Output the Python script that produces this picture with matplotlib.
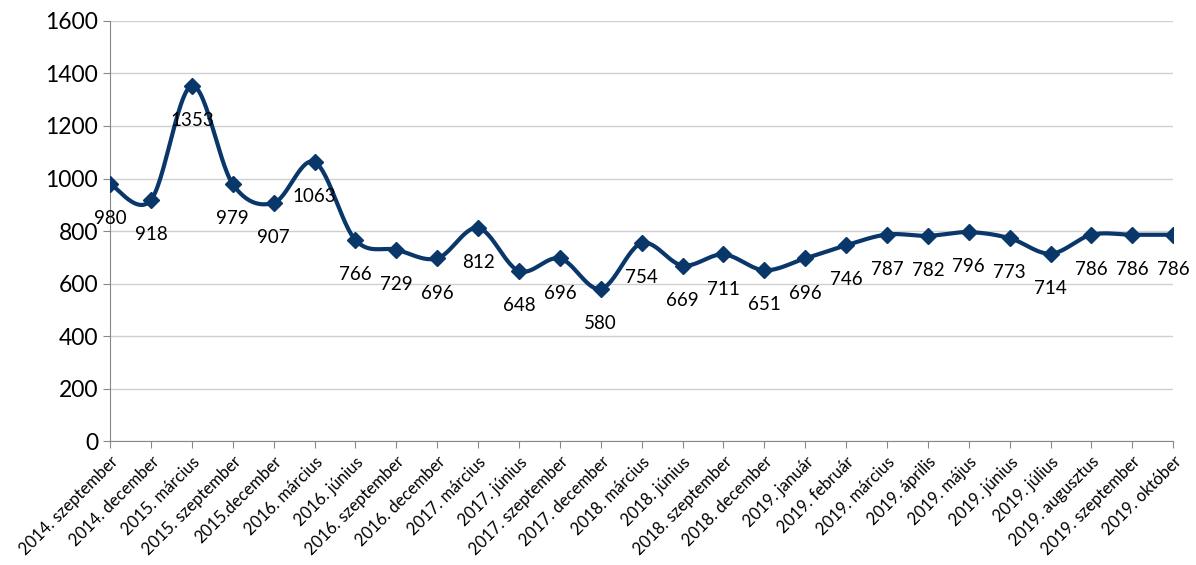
import numpy as np
import matplotlib
matplotlib.use("Agg")
import matplotlib.pyplot as plt

plt.rcParams['font.family'] = ['Lato', 'DejaVu Sans']

categories = ["2014. szeptember", "2014. december", "2015. március", "2015. szeptember",
              "2015.december", "2016. március", "2016. június", "2016. szeptember",
              "2016. december", "2017. március", "2017. június", "2017. szeptember",
              "2017. december", "2018. március", "2018. június", "2018. szeptember",
              "2018. december", "2019. január", "2019. február", "2019. március",
              "2019. április", "2019. május", "2019. június", "2019. július",
              "2019. augusztus", "2019. szeptember", "2019. október"]
values = [980, 918, 1353, 979, 907, 1063, 766, 729, 696, 812, 648, 696, 580, 754,
          669, 711, 651, 696, 746, 787, 782, 796, 773, 714, 786, 786, 786]
y_ticks = [0, 200, 400, 600, 800, 1000, 1200, 1400, 1600]

color = '#0A376A'

def smooth(x, y, n=30):
    x = np.asarray(x, float); y = np.asarray(y, float)
    px = np.concatenate([[x[0]], x, [x[-1]]])
    py = np.concatenate([[y[0]], y, [y[-1]]])
    xs, ys = [], []
    t = np.linspace(0, 1, n)
    for i in range(1, len(px) - 2):
        p0 = np.array([px[i], py[i]]); p3 = np.array([px[i+1], py[i+1]])
        c1 = p0 + (np.array([px[i+1], py[i+1]]) - np.array([px[i-1], py[i-1]])) / 6
        c2 = p3 - (np.array([px[i+2], py[i+2]]) - np.array([px[i], py[i]])) / 6
        b = ((1-t)**3)[:, None]*p0 + (3*(1-t)**2*t)[:, None]*c1 + (3*(1-t)*t**2)[:, None]*c2 + (t**3)[:, None]*p3
        xs.append(b[:, 0]); ys.append(b[:, 1])
    return np.concatenate(xs), np.concatenate(ys)

fig = plt.figure(figsize=(11.96, 5.65), dpi=100)
ax = fig.add_axes([0.092, 0.219, 0.889, 0.744])

x = np.arange(len(values))
sx, sy = smooth(x, values)
ax.plot(sx, sy, color=color, lw=3.0, solid_capstyle='round', zorder=3)
ax.plot(x, values, linestyle='none', marker='D', ms=8.5, color=color, zorder=4)

for xi, v in zip(x, values):
    ax.annotate(str(v), (xi, v), xytext=(0, -25), textcoords='offset points',
                ha='center', va='center', fontsize=13.5, color='black', zorder=5)

ax.set_xlim(0, len(values) - 1)
ax.set_ylim(0, 1600)
ax.set_yticks(y_ticks)
ax.set_yticklabels([str(t) for t in y_ticks], fontsize=16.5)
ax.set_xticks(x)
ax.set_xticklabels(categories, rotation=45, ha='right', rotation_mode='anchor', fontsize=12)
ax.grid(axis='y', color='#D0D0D0', lw=1)
ax.set_axisbelow(True)
for s in ['top', 'right']:
    ax.spines[s].set_visible(False)
ax.spines['left'].set_color('#888888')
ax.spines['bottom'].set_color('#888888')
ax.tick_params(axis='both', colors='#888888', labelcolor='black', length=5)
ax.tick_params(axis='x', pad=4)

fig.savefig('out.png', dpi=100)
